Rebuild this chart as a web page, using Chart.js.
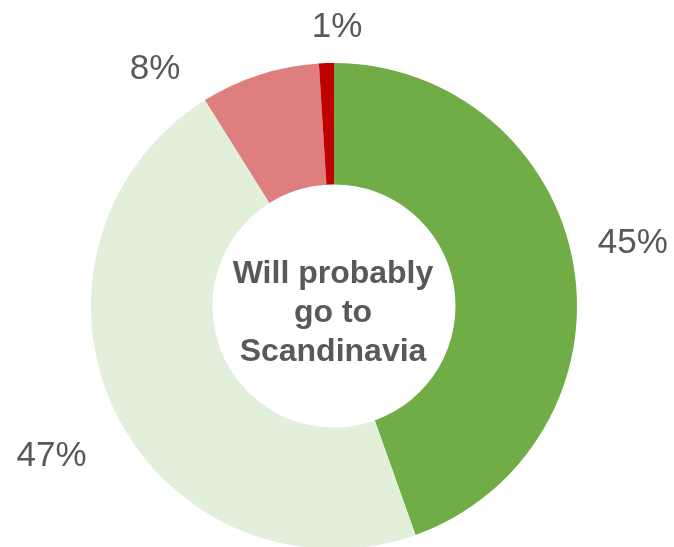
<!DOCTYPE html>
<html>
<head>
<meta charset="utf-8">
<script src="https://cdn.jsdelivr.net/npm/chart.js@4/dist/chart.umd.min.js"></script>
<style>
  html, body { margin: 0; padding: 0; background: #ffffff; overflow: hidden; }
  #wrap { width: 674px; height: 547px; overflow: hidden; }
  canvas { display: block; }
</style>
</head>
<body>
<div id="wrap"><canvas id="chart" width="674" height="560"></canvas></div>
<script>
// Shares of answers, clockwise from 12 o'clock
const categories = ['Definitely', 'Probably', 'Probably not', 'Definitely not'];
const shares = [45, 47, 8, 1];
const sliceColors = ['#70AD47', '#E2EFDA', '#DF7E7E', '#C00000'];
const centerLines = ['Will probably', 'go to', 'Scandinavia'];

// Label placement around the ring: angle shift from slice middle (deg), distance as a multiple of the outer radius
const labelShift = [-2.6, -1.8, -19.0, 2.4];
const labelDistance = [1.259, 1.312, 1.229, 1.160];

const ringLabels = {
  id: 'ringLabels',
  afterDraw(chart) {
    const ctx = chart.ctx;
    const meta = chart.getDatasetMeta(0);
    ctx.save();
    ctx.fillStyle = '#595959';
    ctx.textAlign = 'center';
    ctx.textBaseline = 'alphabetic';
    ctx.font = '35px "Liberation Sans", Arial, sans-serif';
    meta.data.forEach((arc, i) => {
      const p = arc.getProps(['x', 'y', 'startAngle', 'endAngle', 'outerRadius'], true);
      const mid = (p.startAngle + p.endAngle) / 2 + labelShift[i] * Math.PI / 180;
      const r = p.outerRadius * labelDistance[i];
      const x = p.x + r * Math.cos(mid);
      const y = p.y + r * Math.sin(mid);
      ctx.fillText(shares[i] + '%', x, y + 12.5);
    });
    // centre caption
    const a0 = meta.data[0].getProps(['x', 'y'], true);
    ctx.font = 'bold 32px "Liberation Sans", Arial, sans-serif';
    const baselines = [-23, 16, 55];
    centerLines.forEach((t, i) => ctx.fillText(t, a0.x - 1, a0.y + baselines[i]));
    ctx.restore();
  }
};

new Chart(document.getElementById('chart'), {
  type: 'doughnut',
  data: {
    labels: categories,
    datasets: [{
      data: shares,
      backgroundColor: sliceColors,
      borderWidth: 0,
      hoverOffset: 0
    }]
  },
  options: {
    responsive: false,
    animation: false,
    cutout: '50%',
    layout: { padding: { left: 91, right: 97, top: 63, bottom: 11 } },
    plugins: {
      legend: { display: false },
      tooltip: { enabled: false }
    }
  },
  plugins: [ringLabels]
});
</script>
</body>
</html>
